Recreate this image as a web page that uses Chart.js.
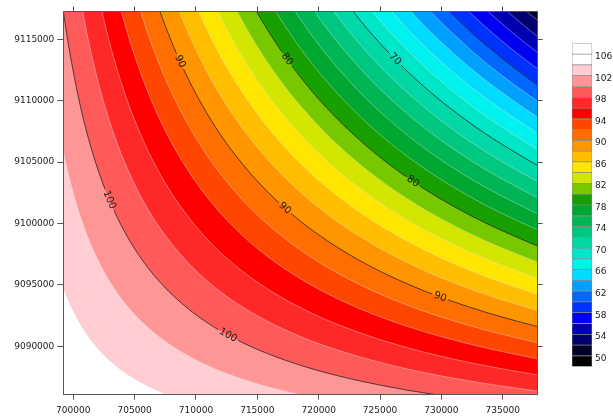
<!DOCTYPE html>
<html>
<head>
<meta charset="utf-8">
<script src="https://cdn.jsdelivr.net/npm/chart.js@4.4.0/dist/chart.umd.min.js"></script>
<style>
  html, body { margin: 0; padding: 0; background: #fff; }
  #wrap { position: relative; width: 613px; height: 417px; overflow: hidden; }
  #contourChart { position: absolute; left: 0; top: 0; }
  #colorbarChart { position: absolute; left: 572px; top: 35px; }
</style>
</head>
<body>
<div id="wrap">
  <canvas id="contourChart" width="613" height="417"></canvas>
  <canvas id="colorbarChart" width="41" height="340"></canvas>
</div>
<script>
// map extents (easting / northing) and tick labels
const xRange = [699185, 737850];
const yRange = [9086060, 9117264];
const xTickValues = [700000, 705000, 710000, 715000, 720000, 725000, 730000, 735000];
const yTickValues = [9090000, 9095000, 9100000, 9105000, 9110000, 9115000];

// colour scale, one colour per 2-unit band: <50, 50-52, ... 104-106, >=106
const bandLows = [48, 50, 52, 54, 56, 58, 60, 62, 64, 66, 68, 70, 72, 74, 76, 78,
                  80, 82, 84, 86, 88, 90, 92, 94, 96, 98, 100, 102, 104, 106];
const bandColors = [
  '#000000', '#000028', '#000070', '#0000b0', '#0000f0', '#0032ff', '#0068ff', '#00a0ff',
  '#00dcff', '#00f2ee', '#00e6c8', '#00d8a8', '#00c880', '#00b654', '#00a832', '#18a000',
  '#78c800', '#d2e600', '#ffe600', '#ffbe00', '#ff9600', '#ff6e00', '#ff4600', '#ff0000',
  '#ff2828', '#ff5a5a', '#ff9696', '#ffcdd2', '#ffffff', '#ffffff'
];
const colorbarTicks = [50, 54, 58, 62, 66, 70, 74, 78, 82, 86, 90, 94, 98, 102, 106];

// contour levels and their isolines as [easting, northing]
const levels = [52, 54, 56, 58, 60, 62, 64, 66, 68, 70, 72, 74, 76, 78,
                80, 82, 84, 86, 88, 90, 92, 94, 96, 98, 100, 102, 104];
const isolines = [
  // 52
  [[698100,9121860],[732170,9121860],[734780,9119220],[737550,9116770],[739670,9115100]],
  // 54
  [[698100,9125950],[727440,9125950],[732170,9120350],[734780,9117810],[737550,9115450],[739670,9113840]],
  // 56
  [[698100,9124230],[727440,9124230],[732170,9118840],[734780,9116400],[737550,9114130],[739670,9112580]],
  // 58
  [[698100,9128310],[723370,9128310],[727440,9122510],[732170,9117340],[734780,9114990],[737550,9112810],[739670,9111320]],
  // 60
  [[698100,9126350],[723370,9126350],[727440,9120790],[732170,9115830],[734780,9113580],[737550,9111490],[739670,9110060]],
  // 62
  [[698100,9124390],[723370,9124390],[727440,9119070],[732170,9114320],[734780,9112170],[737550,9110170],[739670,9108810]],
  // 64
  [[698100,9128390],[719700,9128390],[723370,9122440],[727440,9117350],[732170,9112820],[737550,9108850],[739670,9107550]],
  // 66
  [[698100,9126160],[719700,9126160],[723370,9120480],[727440,9115630],[732170,9111310],[737550,9107530],[739670,9106290]],
  // 68
  [[698100,9123920],[719700,9123920],[723370,9118520],[727440,9113910],[732170,9109800],[737550,9106210],[739670,9105030]],
  // 70
  [[698100,9127460],[716520,9127460],[719700,9121680],[723370,9116560],[727440,9112190],[732170,9108300],[737550,9104890],[739670,9103770]],
  // 72
  [[698100,9124910],[716520,9124910],[719700,9119440],[723370,9114600],[727440,9110470],[732170,9106790],[737550,9103570],[739670,9102510]],
  // 74
  [[698100,9128200],[713750,9128200],[716520,9122350],[719700,9117200],[723370,9112640],[727440,9108750],[732170,9105280],[737550,9102250],[739670,9101250]],
  // 76
  [[698100,9125280],[713750,9125280],[716520,9119800],[719700,9114960],[723370,9110680],[727440,9107030],[732170,9103770],[737550,9100930],[739670,9099990]],
  // 78
  [[698100,9128260],[711300,9128260],[713750,9122370],[716520,9117240],[719700,9112720],[723370,9108720],[727440,9105310],[732170,9102270],[737550,9099610],[739670,9098730]],
  // 80
  [[698100,9124930],[711300,9124930],[713750,9119460],[716520,9114690],[719700,9110480],[723370,9106770],[727440,9103590],[732170,9100760],[737550,9098290],[739670,9097470]],
  // 82
  [[698100,9127320],[709190,9127320],[711300,9121610],[713750,9116540],[716520,9112130],[719700,9108250],[723370,9104810],[727440,9101870],[732170,9099250],[737550,9096970],[739670,9096210]],
  // 84
  [[698100,9123530],[709190,9123530],[711300,9118280],[713750,9113630],[716520,9109580],[719700,9106010],[723370,9102850],[727440,9100150],[732170,9097750],[737550,9095650],[739670,9094950]],
  // 86
  [[698100,9125240],[707310,9125240],[709190,9119740],[711300,9114950],[713750,9110710],[716520,9107020],[719700,9103770],[723370,9100890],[727440,9098430],[732170,9096240],[737550,9094320],[739670,9093690]],
  // 88
  [[698100,9126530],[705680,9126530],[707310,9120910],[709190,9115950],[711300,9111630],[713750,9107800],[716520,9104470],[719700,9101530],[723370,9098930],[727440,9096710],[732170,9094730],[737550,9093000],[739670,9092430]],
  // 90
  [[698100,9127480],[704210,9127480],[705680,9121600],[707310,9116590],[709190,9112150],[711300,9108300],[713750,9104890],[716520,9101910],[719700,9099290],[723370,9096970],[727440,9094990],[732170,9093230],[737550,9091680],[739670,9091180]],
  // 92
  [[698100,9127450],[702990,9127450],[704210,9121840],[705680,9116670],[707310,9112260],[709190,9108360],[711300,9104980],[713750,9101970],[716520,9099360],[719700,9097050],[723370,9095010],[727440,9093270],[732170,9091720],[737550,9090360],[739670,9089920]],
  // 94
  [[698100,9126910],[701850,9126910],[702990,9121040],[704210,9116200],[705680,9111740],[707310,9107930],[709190,9104570],[711300,9101650],[713750,9099060],[716520,9096800],[719700,9094810],[723370,9093050],[727440,9091550],[732170,9090210],[737550,9089040],[739670,9088660]],
  // 96
  [[698100,9125110],[700870,9125110],[701850,9119570],[702990,9114620],[704210,9110560],[705680,9106810],[707310,9103610],[709190,9100780],[711300,9098320],[713750,9096140],[716520,9094250],[719700,9092570],[723370,9091100],[727440,9089830],[732170,9088710],[737550,9087720],[739670,9087400]],
  // 98
  [[698100,9127230],[699320,9127230],[700060,9121580],[700870,9116720],[701850,9112220],[702990,9108220],[704210,9104920],[705680,9101870],[707310,9099280],[709190,9096990],[711300,9094990],[713750,9093230],[716520,9091690],[719700,9090330],[723370,9089140],[727440,9088110],[732170,9087200],[737550,9086400],[739670,9086140]],
  // 100
  [[698100,9127080],[698670,9121380],[699320,9116380],[700060,9112050],[700870,9108320],[701850,9104870],[702990,9101800],[704210,9099280],[705680,9096940],[707310,9094960],[709190,9093200],[711300,9091670],[713750,9090320],[716520,9089140],[719700,9088100],[723370,9087180],[727440,9086390],[732170,9085690]],
  // 102
  [[698100,9112660],[698670,9108750],[699320,9105290],[700060,9102310],[700870,9099740],[701850,9097370],[702990,9095250],[704210,9093510],[705680,9091910],[707310,9090530],[709190,9089330],[711300,9088270],[713750,9087340],[716520,9086520],[719700,9085810]],
  // 104
  [[698100,9098490],[698670,9096310],[699320,9094400],[700060,9092740],[700870,9091310],[701850,9089990],[702990,9088810],[704210,9087840],[705680,9086950],[707310,9086190],[709190,9085510]]
];

// labelled contour lines: level and easting of the label
const labelLevels = [100, 100, 90, 90, 90, 80, 80, 70];
const labelEastings = [702940, 712610, 708700, 717250, 729890, 717420, 727690, 726220];

const FONT = 'DejaVu Sans';

function toPoints(line) {
    return line.map(p => ({ x: p[0], y: p[1] }));
}

// filled bands: each dataset fills everything at or above its level
const fillSets = levels.map((lv, i) => ({
    level: lv,
    data: toPoints(isolines[i]),
    fill: 'start',
    backgroundColor: bandColors[(lv - 48) / 2],
    borderColor: lv % 10 === 0 ? 'rgba(0,0,0,0)' : 'rgba(225,225,225,0.6)',
    borderWidth: 0.7,
    order: 200 - lv
}));

// dark contour lines every 10 units
const lineSets = levels.filter(lv => lv % 10 === 0).map(lv => ({
    level: lv,
    isContourLine: true,
    data: toPoints(isolines[levels.indexOf(lv)]),
    fill: false,
    borderColor: '#262626',
    borderWidth: 0.8,
    order: 0
}));

function labelPlacements(chart, level) {
    const xScale = chart.scales.x;
    const ctx = chart.ctx;
    ctx.font = '10px "' + FONT + '"';
    const out = [];
    labelLevels.forEach((lv, i) => {
        if (level !== undefined && lv !== level) return;
        const idx = chart.data.datasets.findIndex(d => d.isContourLine && d.level === lv);
        const line = chart.getDatasetMeta(idx).dataset;
        if (!line) return;
        const px = xScale.getPixelForValue(labelEastings[i]);
        const p = line.interpolate({ x: px }, 'x');
        const p1 = line.interpolate({ x: px - 2 }, 'x');
        const p2 = line.interpolate({ x: px + 2 }, 'x');
        if (!p || !p1 || !p2 || Array.isArray(p)) return;
        const text = String(lv);
        out.push({ x: p.x, y: p.y, angle: Math.atan2(p2.y - p1.y, p2.x - p1.x), text, w: ctx.measureText(text).width });
    });
    return out;
}

let clipActive = false;
const contourLabels = {
    id: 'contourLabels',
    beforeDatasetsDraw(chart) {
        const a = chart.chartArea;
        chart.ctx.save();
        chart.ctx.fillStyle = bandColors[1];
        chart.ctx.fillRect(a.left, a.top, a.right - a.left, a.bottom - a.top);
        chart.ctx.restore();
    },
    beforeDatasetDraw(chart, args) {
        const ds = chart.data.datasets[args.index];
        if (!ds.isContourLine) return;
        const boxes = labelPlacements(chart, ds.level);
        if (!boxes.length) return;
        const ctx = chart.ctx;
        const a = chart.chartArea;
        ctx.save();
        ctx.beginPath();
        ctx.rect(a.left, a.top, a.right - a.left, a.bottom - a.top);
        boxes.forEach(b => {
            const hw = b.w / 2 + 2, hh = 5;
            const c = Math.cos(b.angle), s = Math.sin(b.angle);
            const pts = [[-hw, -hh], [hw, -hh], [hw, hh], [-hw, hh]].map(([u, v]) => [b.x + u * c - v * s, b.y + u * s + v * c]);
            ctx.moveTo(pts[0][0], pts[0][1]);
            pts.slice(1).forEach(q => ctx.lineTo(q[0], q[1]));
            ctx.closePath();
        });
        ctx.clip('evenodd');
        clipActive = true;
    },
    afterDatasetDraw(chart) {
        if (clipActive) {
            chart.ctx.restore();
            clipActive = false;
        }
    },
    afterDatasetsDraw(chart) {
        const ctx = chart.ctx;
        const a = chart.chartArea;
        labelPlacements(chart).forEach(b => {
            ctx.save();
            ctx.beginPath();
            ctx.rect(a.left, a.top, a.right - a.left, a.bottom - a.top);
            ctx.clip();
            ctx.translate(b.x, b.y);
            ctx.rotate(b.angle);
            ctx.fillStyle = '#1a1a1a';
            ctx.font = '10px "' + FONT + '"';
            ctx.textAlign = 'center';
            ctx.textBaseline = 'middle';
            ctx.fillText(b.text, 0, 0);
            ctx.restore();
        });
    }
};

function axisTicks(values) {
    return scale => { scale.ticks = values.map(v => ({ value: v })); };
}

const tickFont = { family: FONT, size: 9 };
const axisBase = {
    type: 'linear',
    grid: { drawOnChartArea: false, drawTicks: true, tickLength: 5, color: '#555' },
    border: { display: true, color: '#555', width: 1, z: 1 },
    ticks: { color: '#222', font: tickFont, padding: 3, maxRotation: 0, autoSkip: false, callback: v => String(v) }
};

new Chart(document.getElementById('contourChart'), {
    type: 'line',
    data: { datasets: lineSets.concat(fillSets) },
    options: {
        responsive: false,
        animation: false,
        events: [],
        layout: { padding: 0 },
        datasets: {
            line: {
                pointRadius: 0,
                cubicInterpolationMode: 'monotone',
                capBezierPoints: false,
                clip: 0
            }
        },
        plugins: { legend: { display: false }, tooltip: { enabled: false } },
        scales: {
            x: Object.assign({}, axisBase, {
                position: 'bottom', min: xRange[0], max: xRange[1],
                ticks: Object.assign({}, axisBase.ticks, { padding: 6 }),
                afterBuildTicks: axisTicks(xTickValues),
                afterFit: s => { s.height = 22.3; }
            }),
            xTop: Object.assign({}, axisBase, {
                axis: 'x', position: 'top', min: xRange[0], max: xRange[1],
                ticks: { display: false },
                afterBuildTicks: axisTicks(xTickValues),
                afterFit: s => { s.height = 11.5; }
            }),
            y: Object.assign({}, axisBase, {
                position: 'left', min: yRange[0], max: yRange[1],
                grid: { drawOnChartArea: false, drawTicks: true, tickLength: 6, color: '#555' },
                afterBuildTicks: axisTicks(yTickValues),
                afterFit: s => { s.width = 63.3; }
            }),
            yRight: Object.assign({}, axisBase, {
                axis: 'y', position: 'right', min: yRange[0], max: yRange[1],
                ticks: { display: false },
                afterBuildTicks: axisTicks(yTickValues),
                afterFit: s => { s.width = 75.3; }
            })
        }
    },
    plugins: [contourLabels]
});

// colour bar: one floating bar segment per band
new Chart(document.getElementById('colorbarChart'), {
    type: 'bar',
    data: {
        labels: [''],
        datasets: bandLows.map((lo, i) => ({
            data: [[lo, lo + 2]],
            backgroundColor: bandColors[i],
            borderColor: '#8c8c8c',
            borderWidth: 0.7,
            borderSkipped: false,
            barPercentage: 1,
            categoryPercentage: 1,
            grouped: false
        }))
    },
    options: {
        responsive: false,
        animation: false,
        events: [],
        layout: { padding: { top: 5, bottom: 8, left: 0, right: 0 } },
        plugins: { legend: { display: false }, tooltip: { enabled: false } },
        scales: {
            x: { display: false },
            y: {
                position: 'right', min: 48, max: 108,
                afterBuildTicks: axisTicks(colorbarTicks),
                afterFit: s => { s.width = 21; },
                grid: { display: false, drawTicks: false, tickLength: 0 },
                border: { display: false },
                ticks: { color: '#222', font: tickFont, padding: 3, labelOffset: 2.5 }
            }
        }
    }
});
</script>
</body>
</html>
